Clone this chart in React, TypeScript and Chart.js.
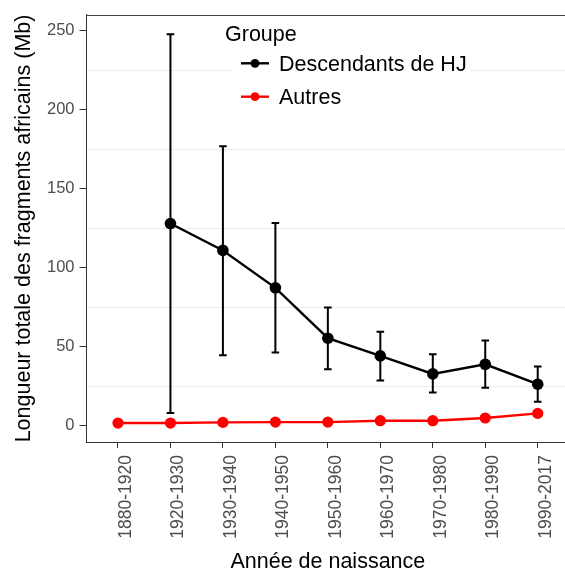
import React, { useEffect, useRef } from 'react';
import { Chart, registerables } from 'chart.js';

Chart.register(...registerables);

// ---- Data ----
const categories = [
  '1880-1920', '1920-1930', '1930-1940', '1940-1950', '1950-1960',
  '1960-1970', '1970-1980', '1980-1990', '1990-2017',
];
const hjMean: (number | null)[] = [null, 128, 111, 87.3, 55.4, 44.2, 32.8, 38.9, 26.3];
const hjLow: (number | null)[] = [null, 8, 44.6, 46.3, 35.8, 28.6, 21, 24, 15.2];
const hjHigh: (number | null)[] = [null, 247.9, 177, 128.4, 74.9, 59.5, 45.2, 53.9, 37.5];
const autresMean: number[] = [1.7, 1.7, 2.1, 2.3, 2.3, 3.2, 3.2, 4.9, 7.8];
const yMajorTicks = [0, 50, 100, 150, 200, 250];
const yMinorTicks = [25, 75, 125, 175, 225];

const seriesNames = ['Descendants de HJ', 'Autres'];
const seriesColors = ['#000000', '#ff0000'];
const legendTitle = 'Groupe';
const xTitle = 'Année de naissance';
const yTitle = 'Longueur totale des fragments africains (Mb)';

const FONT = "'Liberation Sans', Arial, Helvetica, sans-serif";
const W = 575;
const H = 577;

const errorBarPlugin = {
  id: 'errorBars',
  beforeDatasetsDraw(chart: any) {
    const { ctx, scales } = chart;
    const xs = scales.x;
    const ys = scales.y;
    ctx.save();
    ctx.strokeStyle = seriesColors[0];
    ctx.lineWidth = 2;
    const cap = 3.8;
    for (let i = 0; i < categories.length; i++) {
      const lo = hjLow[i];
      const hi = hjHigh[i];
      if (lo == null || hi == null) continue;
      const x = xs.getPixelForValue(i);
      const yl = ys.getPixelForValue(lo);
      const yh = ys.getPixelForValue(hi);
      ctx.beginPath();
      ctx.moveTo(x, yl);
      ctx.lineTo(x, yh);
      ctx.moveTo(x - cap, yl);
      ctx.lineTo(x + cap, yl);
      ctx.moveTo(x - cap, yh);
      ctx.lineTo(x + cap, yh);
      ctx.stroke();
    }
    ctx.restore();
  },
};

const framePlugin = {
  id: 'frameLegend',
  afterDraw(chart: any) {
    const { ctx, chartArea } = chart;
    ctx.save();
    // top border of panel
    ctx.strokeStyle = '#444444';
    ctx.lineWidth = 1;
    const ty = Math.round(chartArea.top) + 0.5;
    ctx.beginPath();
    ctx.moveTo(chartArea.left, ty);
    ctx.lineTo(chartArea.right, ty);
    ctx.stroke();

    // legend background
    ctx.fillStyle = '#ffffff';
    ctx.fillRect(232, 47, 238, 66);

    // legend title
    ctx.fillStyle = '#000000';
    ctx.font = `21.5px ${FONT}`;
    ctx.textBaseline = 'alphabetic';
    ctx.textAlign = 'left';
    ctx.fillText(legendTitle, 225, 41);

    const rows = [63.3, 96.7];
    seriesNames.forEach((name, k) => {
      const y = rows[k];
      ctx.strokeStyle = seriesColors[k];
      ctx.lineWidth = 2.4;
      ctx.beginPath();
      ctx.moveTo(241, y);
      ctx.lineTo(269, y);
      ctx.stroke();
      ctx.fillStyle = seriesColors[k];
      ctx.beginPath();
      ctx.arc(255, y, 4.4, 0, Math.PI * 2);
      ctx.fill();
      ctx.fillStyle = '#000000';
      ctx.fillText(name, 279, y + 7.2);
    });
    ctx.restore();
  },
};

function App() {
  const ref = useRef<HTMLCanvasElement | null>(null);

  useEffect(() => {
    if (!ref.current) return;
    const allYTicks = [...yMajorTicks, ...yMinorTicks].sort((a, b) => a - b);
    const isMajor = (v: number) => yMajorTicks.includes(v);
    const chart = new Chart(ref.current, {
      type: 'line',
      data: {
        datasets: [
          {
            label: seriesNames[1],
            data: autresMean.map((v, i) => ({ x: i, y: v })),
            borderColor: seriesColors[1],
            backgroundColor: seriesColors[1],
            borderWidth: 2.4,
            pointRadius: 5.6,
            pointHoverRadius: 5.6,
            pointBorderWidth: 0,
            order: 2,
          },
          {
            label: seriesNames[0],
            data: hjMean.map((v, i) => ({ x: i, y: v })),
            borderColor: seriesColors[0],
            backgroundColor: seriesColors[0],
            borderWidth: 2.4,
            pointRadius: 5.8,
            pointHoverRadius: 5.8,
            pointBorderWidth: 0,
            spanGaps: false,
            order: 1,
          },
        ],
      },
      options: {
        responsive: false,
        animation: false,
        devicePixelRatio: 1,
        events: [],
        layout: { padding: { top: 14.5, right: W - 570.6, bottom: 0, left: 0 } },
        plugins: {
          legend: { display: false },
          tooltip: { enabled: false },
        },
        scales: {
          x: {
            type: 'linear',
            min: -0.6,
            max: 8.6,
            afterBuildTicks: (s: any) => {
              s.ticks = categories.map((_, i) => ({ value: i }));
            },
            afterFit: (s: any) => {
              s.height = H - 442;
            },
            ticks: {
              callback: (v: any) => categories[v] ?? '',
              autoSkip: false,
              minRotation: 90,
              maxRotation: 90,
              labelOffset: 8,
              padding: 7,
              color: '#4d4d4d',
              font: { family: FONT, size: 17.5 },
            },
            grid: {
              drawOnChartArea: false,
              drawTicks: true,
              tickLength: 6,
              tickColor: '#333333',
              tickWidth: 1,
            },
            border: { display: true, color: '#333333', width: 1 },
            title: {
              display: true,
              text: xTitle,
              color: '#000000',
              font: { family: FONT, size: 21.5 },
              padding: { top: 0, bottom: 1.6 },
            },
          },
          y: {
            type: 'linear',
            min: -10.3,
            max: 260.1,
            afterBuildTicks: (s: any) => {
              s.ticks = allYTicks.map((v) => ({ value: v }));
            },
            afterFit: (s: any) => {
              s.width = 86.5;
            },
            ticks: {
              callback: (v: any) => (isMajor(v) ? String(v) : ''),
              autoSkip: false,
              padding: 5,
              color: '#4d4d4d',
              font: { family: FONT, size: 16.5 },
            },
            grid: {
              color: (c: any) => (isMajor(c.tick?.value) ? 'rgba(0,0,0,0)' : '#ebebeb'),
              tickColor: (c: any) => (isMajor(c.tick?.value) ? '#333333' : 'rgba(0,0,0,0)'),
              tickLength: 7,
              lineWidth: 1,
            },
            border: { display: true, color: '#333333', width: 1 },
            title: {
              display: true,
              text: yTitle,
              color: '#000000',
              font: { family: FONT, size: 21.5 },
              padding: { top: 11, bottom: 0 },
            },
          },
        },
      } as any,
      plugins: [errorBarPlugin, framePlugin],
    });
    return () => chart.destroy();
  }, []);

  return (
    <div
      style={{
        position: 'fixed',
        left: 0,
        top: 0,
        width: 565,
        height: 577,
        overflow: 'hidden',
        background: '#ffffff',
      }}
    >
      <canvas ref={ref} width={W} height={H} style={{ display: 'block' }} />
    </div>
  );
}

export default App;
